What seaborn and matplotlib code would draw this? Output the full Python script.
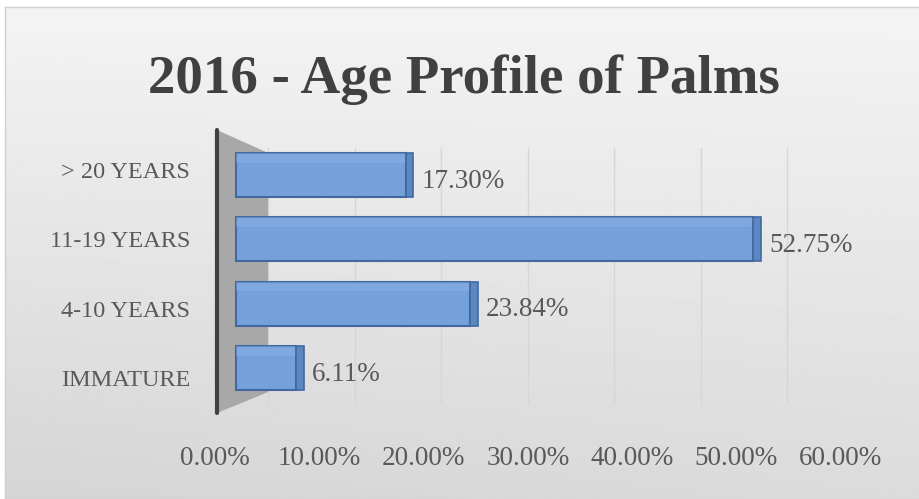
import numpy as np
import pandas as pd
import matplotlib
matplotlib.use("Agg")
import matplotlib.pyplot as plt
import seaborn as sns
from matplotlib.patches import Polygon, Rectangle
from matplotlib import font_manager as fm

# ---- data ----
categories = ["> 20 YEARS", "11-19 YEARS", "4-10 YEARS", "IMMATURE"]
values = [17.30, 52.75, 23.84, 6.11]
tick_values = [0, 10, 20, 30, 40, 50, 60]
tick_labels = [f"{t:.2f}%" for t in tick_values]
title = "2016 - Age Profile of Palms"

W, H = 920, 499
fig = plt.figure(figsize=(W / 100, H / 100), dpi=100, facecolor="white")

names = {f.name for f in fm.fontManager.ttflist}
if "Liberation Sans Narrow" in names:
    title_family, title_size = ["Liberation Sans Narrow", "DejaVu Sans"], 43
else:
    title_family, title_size = ["Liberation Serif", "DejaVu Serif"], 39.5
serif = ["Liberation Serif", "DejaVu Serif"]
txt_col = "#595959"


def rect(x0, x1, ytop, ybot):
    return [x0 / W, (H - ybot) / H, (x1 - x0) / W, (ybot - ytop) / H]


# ---- background panel with soft gradient ----
bg = fig.add_axes(rect(5, 920, 7, 499))
yy, xx = np.mgrid[0:1:200j, 0:1:400j]
g = 0.955 - 0.12 * yy + 0.025 * xx * yy
bg.imshow(g, cmap="gray", vmin=0, vmax=1, aspect="auto", extent=(0, 1, 0, 1),
          origin="upper", interpolation="bilinear")
bg.set_xticks([])
bg.set_yticks([])
for s in bg.spines.values():
    s.set_color("#D0D0D0")
    s.set_linewidth(1)

# ---- back-wall gridlines ----
ax_grid = fig.add_axes(rect(217, 880, 148, 405))
ax_grid.set_facecolor("none")
ax_grid.set_xlim(-5.9, 70.75)
ax_grid.set_ylim(0, 1)
ax_grid.set_xticks(tick_values)
ax_grid.set_xticklabels([])
ax_grid.set_yticks([])
ax_grid.tick_params(length=0)
ax_grid.grid(axis="x", color="#D6D6D6", linewidth=1)
for s in ax_grid.spines.values():
    s.set_visible(False)

# ---- bars ----
ax = fig.add_axes(rect(217, 880, 130, 413))
ax.set_facecolor("none")
df = pd.DataFrame({"category": categories, "value": values})
sns.barplot(data=df, x="value", y="category", orient="h", color="#74A1DA",
            saturation=1, width=0.68, edgecolor="#41699F", linewidth=1.5, ax=ax)
ax.set_xlim(-1.94, 65.7)
ax.set_ylim(3.70, -0.70)
ax.set_xlabel("")
ax.set_ylabel("")
ax.set_xticks([])
ax.set_yticks([])
for k, s in ax.spines.items():
    s.set_visible(k == "left")
ax.spines["left"].set_color("#404040")
ax.spines["left"].set_linewidth(3)
ax.spines["left"].set_capstyle("round")
wall = Polygon([(0, 1), (0.077, 0.919), (0.077, 0.074), (0, 0)], closed=True,
               transform=ax.transAxes, facecolor="#A8A8A8", edgecolor="none", zorder=0.5)
ax.add_patch(wall)

# darker end faces (3-D look), derived from the drawn bar patches
depth = 0.8
for p in ax.containers[0]:
    x1 = p.get_x() + p.get_width()
    ax.add_patch(Rectangle((x1, p.get_y()), depth, p.get_height(),
                           facecolor="#5B88C2", edgecolor="#41699F", linewidth=1.2, zorder=1.1))
    # lighter highlight strip along the top of the front face
    ax.add_patch(Rectangle((p.get_x(), p.get_y()), p.get_width(), p.get_height() * 0.22,
                           facecolor="#8DB3E3", edgecolor="none", alpha=0.45, zorder=1.05))

anns = ax.bar_label(ax.containers[0], labels=[f"{v:.2f}%" for v in values], padding=11.5,
                    fontsize=19.5, color=txt_col, family=serif)
for a in anns:
    a.xyann = (11.5, -4.5)

# ---- category labels ----
ax_ylab = fig.add_axes(rect(217, 880, 130, 413))
ax_ylab.set_facecolor("none")
ax_ylab.set_ylim(3.505, -0.577)
ax_ylab.set_yticks(range(len(categories)))
ax_ylab.set_yticklabels(categories, fontsize=17.5, color=txt_col, family=serif)
ax_ylab.set_xticks([])
ax_ylab.tick_params(length=0, pad=19.4)
for s in ax_ylab.spines.values():
    s.set_visible(False)

# ---- value axis labels ----
ax_xlab = fig.add_axes(rect(100, 900, 130, 413))
ax_xlab.set_facecolor("none")
ax_xlab.set_xlim(-11.03, 65.68)
ax_xlab.set_xticks(tick_values)
ax_xlab.set_xticklabels(tick_labels, fontsize=19.5, color=txt_col, family=serif)
ax_xlab.set_yticks([])
ax_xlab.tick_params(length=0, pad=23.5)
for s in ax_xlab.spines.values():
    s.set_visible(False)

# ---- title ----
fig.text(464 / W, (H - 93) / H, title, ha="center", va="baseline",
         fontsize=title_size, fontweight="bold", color="#404040", family=title_family)

fig.savefig("out.png", dpi=100, facecolor=fig.get_facecolor())
